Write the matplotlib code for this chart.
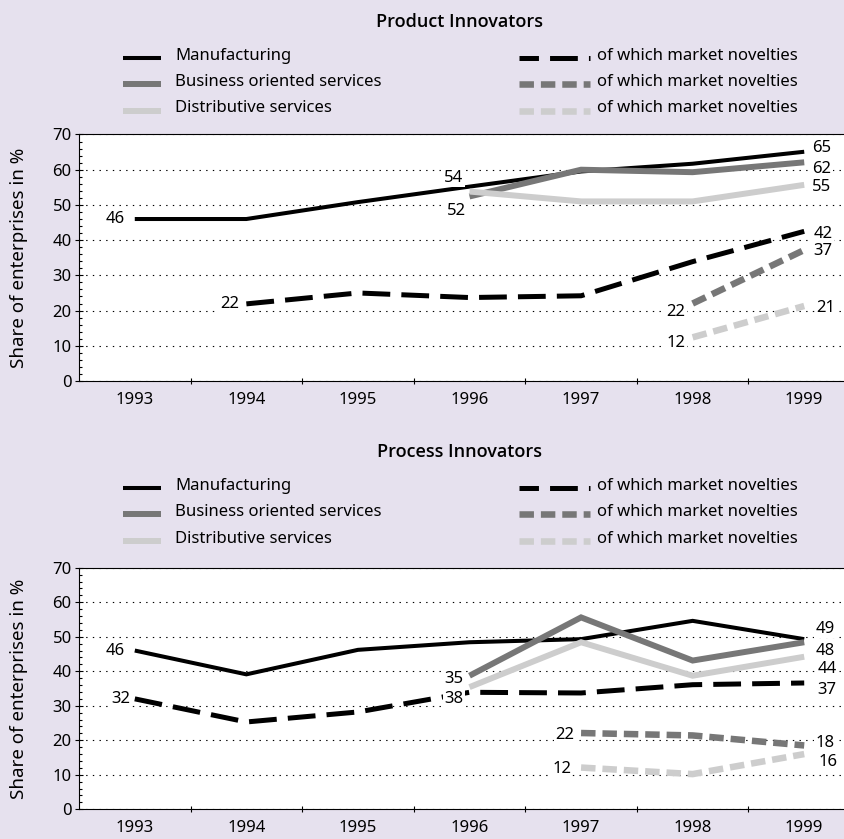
import numpy as np
import matplotlib
matplotlib.use('Agg')
import matplotlib.pyplot as plt
from matplotlib.lines import Line2D
from matplotlib.ticker import MultipleLocator

plt.rcParams['font.family'] = ['Noto Sans', 'DejaVu Sans']
plt.rcParams['lines.scale_dashes'] = False

W, H = 845, 839
PX = 0.72  # points per pixel at dpi 100

BG = '#E6E1EE'
BLACK = '#000000'
DARK = '#777777'
LIGHT = '#CDCDCD'

years = ['1993', '1994', '1995', '1996', '1997', '1998', '1999']

# Product innovators (share in %)
prod_manuf = [46, 46, 50.8, 55.2, 59.5, 61.7, 65.1]
prod_manuf_nov = [None, 21.9, 25.0, 23.7, 24.2, 33.9, 42.5]
prod_bus = [None, None, None, 52.4, 60.0, 59.3, 62.1]
prod_dist = [None, None, None, 53.8, 51.0, 51.0, 55.7]
prod_bus_nov = [None, None, None, None, None, 22.0, 37.2]
prod_dist_nov = [None, None, None, None, None, 12.4, 21.3]

# Process innovators (share in %)
proc_manuf = [46, 39.1, 46.2, 48.4, 49.3, 54.6, 49.3]
proc_manuf_nov = [32, 25.3, 28.2, 33.9, 33.7, 36.1, 36.6]
proc_bus = [None, None, None, 38.7, 55.6, 43.1, 48.4]
proc_dist = [None, None, None, 35.4, 48.4, 38.7, 44.2]
proc_bus_nov = [None, None, None, None, 22.1, 21.4, 18.5]
proc_dist_nov = [None, None, None, None, 12.1, 10.2, 16.0]

# value labels: (series, year index, text)
prod_labels = [
    ('manuf', 0, '46'), ('manuf_nov', 1, '22'), ('dist', 3, '54'), ('bus', 3, '52'),
    ('manuf', 6, '65'), ('bus', 6, '62'), ('dist', 6, '55'), ('manuf_nov', 6, '42'),
    ('bus_nov', 6, '37'), ('dist_nov', 6, '21'), ('bus_nov', 5, '22'), ('dist_nov', 5, '12'),
]
proc_labels = [
    ('manuf', 0, '46'), ('manuf_nov', 0, '32'), ('bus', 3, '35'), ('manuf_nov', 3, '38'),
    ('bus_nov', 4, '22'), ('dist_nov', 4, '12'), ('manuf', 6, '49'), ('bus', 6, '48'),
    ('dist', 6, '44'), ('manuf_nov', 6, '37'), ('bus_nov', 6, '18'), ('dist_nov', 6, '16'),
]
# label offsets in pixels (dx, dy up), same order as the label lists
prod_offsets = [(-10, 0), (-7, 0), (-6, 14), (-3, -15), (8, 4), (8, -7), (8, -2),
                (9, -2.5), (9, -1), (12, -2), (-7, -8), (-7, -6)]
proc_offsets = [(-10, 0), (-4, 0), (-6, -3), (-6, -6.5), (-7, -2), (-10, -1),
                (11, 10), (11, -8.5), (13, -12), (13, -7), (11, 2.5), (14, -8)]

LEGEND_NAMES = {
    'manuf': 'Manufacturing',
    'bus': 'Business oriented services',
    'dist': 'Distributive services',
    'manuf_nov': 'of which market novelties',
    'bus_nov': 'of which market novelties',
    'dist_nov': 'of which market novelties',
}

STYLES = {
    'manuf': dict(color=BLACK, lw=2.9, ls='-'),
    'bus': dict(color=DARK, lw=4.3, ls='-'),
    'dist': dict(color=LIGHT, lw=4.3, ls='-'),
    'manuf_nov': dict(color=BLACK, lw=3.6, ls=(0, (20, 8))),
    'bus_nov': dict(color=DARK, lw=4.7, ls=(0, (10.4, 5))),
    'dist_nov': dict(color=LIGHT, lw=4.7, ls=(0, (10.4, 5))),
}
DRAW_ORDER = ['manuf', 'bus', 'dist', 'manuf_nov', 'bus_nov', 'dist_nov']


def to_arr(vals):
    return np.array([np.nan if v is None else v for v in vals], dtype=float)


def draw_panel(ax, series, labels, offsets):
    ax.set_facecolor('white')
    xs = np.arange(len(years)) + 0.5
    for key in DRAW_ORDER:
        ax.plot(xs, to_arr(series[key]), solid_capstyle='butt', dash_capstyle='butt',
                solid_joinstyle='miter', **STYLES[key])

    for (key, idx, txt), (dx, dy) in zip(labels, offsets):
        ax.annotate(txt, (xs[idx], series[key][idx]), xytext=(dx * PX, dy * PX),
                    textcoords='offset points', ha='right' if dx < 0 else 'left',
                    va='center', fontsize=12, zorder=5,
                    bbox=dict(boxstyle='square,pad=0.08', fc='white', ec='none'))

    ax.set_xlim(0, len(years))
    ax.set_ylim(0, 70)
    ax.set_yticks(range(0, 80, 10))
    ax.yaxis.set_minor_locator(MultipleLocator(2))
    ax.set_xticks(range(1, len(years)))
    ax.set_xticklabels([])
    ax.set_xticks(xs, minor=True)
    ax.set_xticklabels(years, minor=True)
    ax.tick_params(axis='y', which='major', direction='inout', length=5.5, width=0.8,
                   labelsize=12, pad=2.5)
    ax.tick_params(axis='y', which='minor', direction='in', length=2.2, width=0.8)
    ax.tick_params(axis='x', which='major', direction='inout', length=5, width=0.8)
    ax.tick_params(axis='x', which='minor', length=0, labelsize=12, pad=8)
    ax.yaxis.grid(True, color='black', lw=0.8, ls=(0, (1, 3.8)))
    for side in ['left', 'bottom', 'top']:
        ax.spines[side].set_linewidth(0.8)
    ax.spines['right'].set_visible(False)
    ax.set_ylabel('Share of enterprises in %', fontsize=13.5)
    ax.yaxis.set_label_coords(-(79 - 28) / 781, 0.5)


def draw_legend(fig, title, top):
    fig.text(460 / W, 1 - top / H, title, ha='center', va='center',
             fontsize=13, fontweight='semibold', family=['Open Sans', 'DejaVu Sans'])
    rows = [36, 62, 88.5]
    left = ['manuf', 'bus', 'dist']
    right = ['manuf_nov', 'bus_nov', 'dist_nov']
    for i in range(3):
        y = 1 - (top + rows[i]) / H
        yt = 1 - (top + rows[i] - 2) / H
        st = dict(STYLES[left[i]])
        fig.add_artist(Line2D([123 / W, 161 / W], [y, y], transform=fig.transFigure,
                              solid_capstyle='butt', **st))
        fig.text(175 / W, yt, LEGEND_NAMES[left[i]], va='center', fontsize=12)
        st = dict(STYLES[right[i]])
        if right[i] == 'manuf_nov':
            st['ls'] = (6, (20, 8))
        fig.add_artist(Line2D([519 / W, 590 / W], [y, y], transform=fig.transFigure,
                              dash_capstyle='butt', **st))
        fig.text(597 / W, yt, LEGEND_NAMES[right[i]], va='center', fontsize=12)


prod = dict(manuf=prod_manuf, manuf_nov=prod_manuf_nov, bus=prod_bus, dist=prod_dist,
            bus_nov=prod_bus_nov, dist_nov=prod_dist_nov)
proc = dict(manuf=proc_manuf, manuf_nov=proc_manuf_nov, bus=proc_bus, dist=proc_dist,
            bus_nov=proc_bus_nov, dist_nov=proc_dist_nov)

fig = plt.figure(figsize=(W / 100, H / 100), dpi=100, facecolor=BG)

ax1 = fig.add_axes([79 / W, 1 - 381 / H, 781 / W, (381 - 134.5) / H])
draw_panel(ax1, prod, prod_labels, prod_offsets)
draw_legend(fig, 'Product Innovators', 22)

ax2 = fig.add_axes([79 / W, 1 - 809.3 / H, 781 / W, (809.3 - 567.7) / H])
draw_panel(ax2, proc, proc_labels, proc_offsets)
draw_legend(fig, 'Process Innovators', 452.3)

fig.savefig('out.png', dpi=100, facecolor=BG)
